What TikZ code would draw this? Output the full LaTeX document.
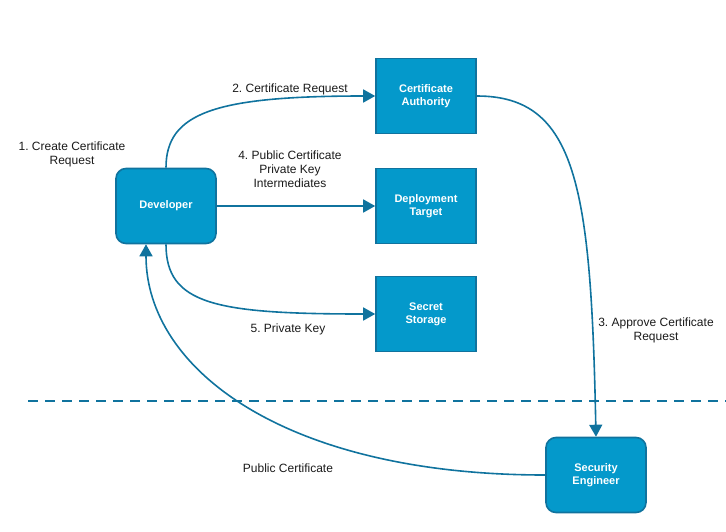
\documentclass[tikz,border=0pt]{standalone}
\usepackage{fontspec}
\setmainfont{Liberation Sans}
\usetikzlibrary{arrows.meta}

\definecolor{boxfill}{HTML}{0499CB}
\definecolor{boxline}{HTML}{10739E}
\definecolor{labeltext}{HTML}{1A1A1A}
\frenchspacing

\begin{document}
\begin{tikzpicture}[x=1pt, y=-1pt,
    % Styles
    actor/.style={draw=boxline, fill=boxfill, line width=1.6pt, rounded corners=10pt, minimum width=100pt, minimum height=75pt, text=white, align=center, font=\fontsize{11}{13}\selectfont\bfseries},
    system/.style={actor, sharp corners},
    flow/.style={draw=boxline, line width=1.6pt, -{Triangle[length=12pt, width=13pt]}},
    steplabel/.style={text=labeltext, align=center, inner sep=0pt, font=\fontsize{12}{14}\selectfont},
    zone/.style={draw=boxline, line width=1.6pt, dash pattern=on 10pt off 7pt},
]
\useasboundingbox (0,0) rectangle (726,531);

% Boxes
\node[actor] (developer) at (166,206) {Developer};
\node[system] (authority) at (426,96) {Certificate\\Authority};
\node[system] (target) at (426,206) {Deployment\\Target};
\node[system] (storage) at (426,314) {Secret\\Storage};
\node[actor] (engineer) at (596,475) {Security\\Engineer};

% Trust boundary
\coordinate (zoneleft) at (28,401);
\coordinate (zoneright) at (726,401);
\draw[zone] (zoneleft) -- (zoneright);

% Connectors
\coordinate (devin) at ([xshift=-20pt]developer.south);
\draw[flow] (developer.north) .. controls +(0,-55) and +(-160,0) .. (authority.west);
\draw[flow] (developer.east) -- (target.west);
\draw[flow] (developer.south) .. controls +(0,60) and +(-160,0) .. (storage.west);
\draw[flow] (authority.east) .. controls +(100,0) and +(-5,-250) .. (engineer.north);
\draw[flow] (engineer.west) .. controls +(-260,0) and +(0,125) .. (devin);

% Labels
\node[steplabel] (create) at (72,154) {1. Create Certificate\\Request};
\node[steplabel] (request) at (290,89) {2. Certificate Request};
\node[steplabel] (approve) at (656,330) {3. Approve Certificate\\Request};
\node[steplabel] (deploy) at (290,169) {4. Public Certificate\\Private Key\\Intermediates};
\node[steplabel] (store) at (288,329) {5. Private Key};
\node[steplabel] (publiccert) at (288,468) {Public Certificate};

\end{tikzpicture}
\end{document}
